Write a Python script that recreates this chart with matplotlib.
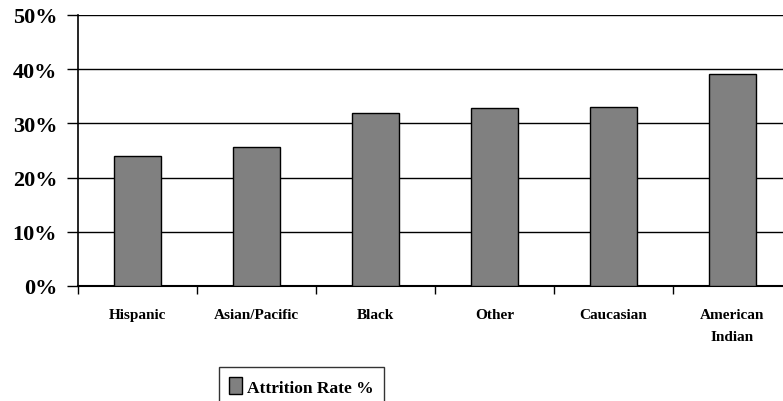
import matplotlib.pyplot as plt
from matplotlib.ticker import PercentFormatter

categories = ["Hispanic", "Asian/Pacific", "Black", "Other", "Caucasian", "American\nIndian"]
attrition = [24.0, 25.7, 32.0, 32.8, 33.0, 39.2]

plt.rcParams["font.family"] = ["Liberation Serif", "DejaVu Serif"]
plt.rcParams["font.weight"] = "bold"

fig = plt.figure(figsize=(7.83, 4.02), dpi=100)
ax = fig.add_axes([78 / 783, 1 - 287 / 402, (792 - 78) / 783, (287 - 16) / 402])

x = list(range(len(categories)))
ax.bar(x, attrition, width=0.4, color="#808080", edgecolor="black", linewidth=1,
       label="Attrition Rate %", zorder=3)

ax.set_xlim(-0.5, len(categories) - 0.5)
ax.set_ylim(0, 50)
ax.set_yticks([0, 10, 20, 30, 40, 50])
ax.yaxis.set_major_formatter(PercentFormatter(decimals=0))
ax.grid(axis="y", color="black", linewidth=1, zorder=0)

ax.set_xticks([i - 0.5 for i in range(len(categories) + 1)])
ax.set_xticklabels([])
ax.set_xticks(x, minor=True)
ax.set_xticklabels(categories, minor=True, fontsize=11, fontweight="bold",
                   linespacing=1.9, va="top")
ax.tick_params(axis="x", which="minor", length=0, pad=16)
ax.tick_params(axis="x", which="major", length=6, width=1, direction="out")
ax.tick_params(axis="y", length=8, width=1, direction="out", pad=7, labelsize=16)
for lbl in ax.get_yticklabels():
    lbl.set_fontweight("bold")

for side in ["top", "right"]:
    ax.spines[side].set_visible(False)
ax.spines["left"].set_linewidth(1.2)
ax.spines["bottom"].set_linewidth(1.5)

leg = fig.legend(loc="upper left", bbox_to_anchor=(219 / 783, 1 - 368 / 402),
                 prop={"size": 12.5, "weight": "bold"}, frameon=True, fancybox=False,
                 edgecolor="black", handlelength=0.75, handleheight=1.1,
                 handletextpad=0.25, borderpad=0.6, borderaxespad=0)
leg.get_frame().set_linewidth(1)

fig.savefig("out.png", dpi=100)
